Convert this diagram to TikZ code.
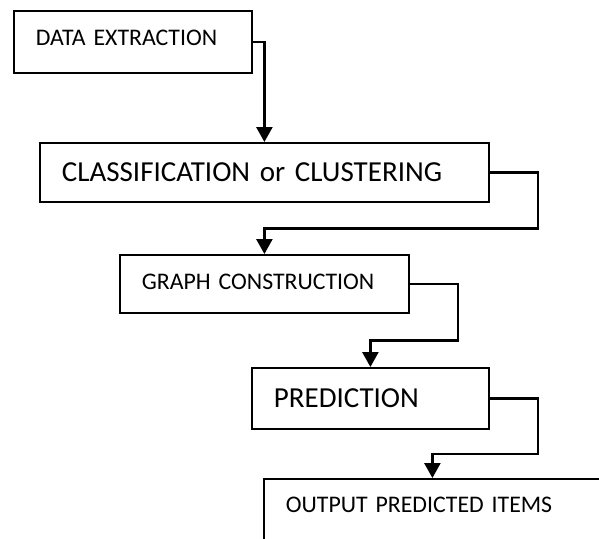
\documentclass[tikz,border=0pt]{standalone}
\usepackage{fontspec}
\setmainfont{Carlito}
\usepackage{tikz}
\usetikzlibrary{arrows.meta,positioning,calc}
\newcommand{\lblsmall}{\fontsize{23.8pt}{28pt}\selectfont}
\newcommand{\lblbig}{\fontsize{29pt}{34pt}\selectfont}

\begin{document}
\begin{tikzpicture}[x=1pt, y=-1pt,
  stage/.style={draw, line width=1.8pt, anchor=north west, align=left, inner xsep=22pt, inner ysep=0pt, font=\lblsmall},
  flow/.style={-{Triangle[width=16pt,length=15pt]}, line width=2.6pt}]
  \useasboundingbox (0,0) rectangle (599,538);
  \clip (0,0) rectangle (599,538);
  \node[stage, text width=194pt, minimum height=62pt, text depth=8.6pt] (extract) at (13,10) {DATA EXTRACTION};
  \node[stage, text width=405pt, minimum height=59pt, font=\lblbig] (cluster) at (39,142) {CLASSIFICATION or CLUSTERING};
  \node[stage, text width=245pt, minimum height=58pt, text depth=4.4pt] (graph) at (119,254) {GRAPH CONSTRUCTION};
  \node[stage, text width=193pt, minimum height=61pt, font=\lblbig, text depth=1pt] (predict) at (251,367) {PREDICTION};
  \node[stage, text width=293pt, minimum height=70pt, text depth=18.6pt] (output) at (263,478) {OUTPUT PREDICTED ITEMS};
  \draw[flow] (extract.east) -| (cluster.north);
  \draw[flow] (cluster.east) -- ++(48,0) |- ($(graph.north)!0.5!(graph.north |- cluster.south)$) -- (graph.north);
  \draw[flow] (graph.east) -- ++(48,0) |- ($(predict.north)!0.5!(predict.north |- graph.south)$) -- (predict.north);
  \draw[flow] (predict.east) -- ++(48,0) |- ($(output.north)!0.5!(output.north |- predict.south)$) -- (output.north);
\end{tikzpicture}
\end{document}
